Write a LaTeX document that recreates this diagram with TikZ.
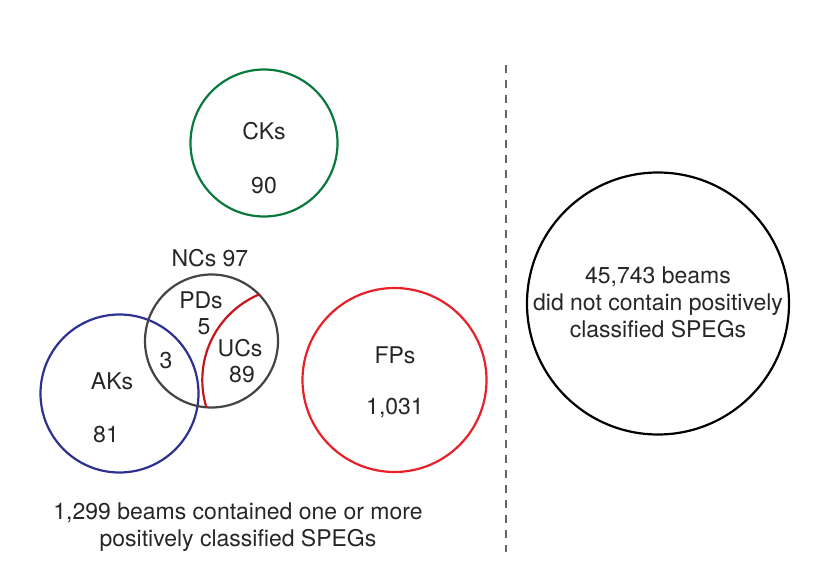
\documentclass[tikz,border=0pt]{standalone}
\usepackage{fontspec}
\setmainfont{TeX Gyre Heros}
\definecolor{ckgreen}{HTML}{0A7A3C}
\definecolor{akblue}{HTML}{2E3192}
\definecolor{fpred}{HTML}{E8202A}
\definecolor{ucred}{HTML}{C4161C}
\definecolor{ncgray}{HTML}{444444}
\definecolor{dashgray}{HTML}{666666}
\begin{document}
\begin{tikzpicture}[x={(1pt,0)},y={(0,-1pt)},
  setcirc/.style={circle,draw,line width=2.2pt,inner sep=0pt},
  lbl/.style={font=\fontsize{23}{27}\selectfont,text=black!85,inner sep=0pt,align=center}]
\useasboundingbox (0,0) rectangle (830,580);
% circles
\node[setcirc,draw=ckgreen,minimum size=147pt] (ck) at (264,143) {};
\node[setcirc,draw=akblue,minimum size=158pt] (ak) at (119.5,393.5) {};
\node[setcirc,draw=ncgray,minimum size=133pt] (nc) at (211.5,341) {};
\node[setcirc,draw=fpred,minimum size=184pt] (fp) at (394.5,380) {};
\node[setcirc,draw=black,minimum size=262pt] (beams) at (658,303.5) {};
% UCs arc
\begin{scope}
\clip (211.5,341) circle (66.5);
\draw[ucred,line width=2.2pt] (295.2,380.1) circle (92.9);
\end{scope}
% dashed separator
\coordinate (dtop) at (506,65);
\coordinate (dbot) at (506,552);
\draw[dashgray,line width=2pt,dash pattern=on 8pt off 7pt] (dtop) -- (dbot);
% labels
\node[lbl] (ckt) at (264,131) {CKs};
\node[lbl] (ckn) at (264,186) {90};
\node[lbl] (nct) at (210,258) {NCs 97};
\node[lbl] (pdt) at (201,300) {PDs};
\node[lbl] (pdn) at (204,327) {5};
\node[lbl] (uct) at (240,348) {UCs};
\node[lbl] (ucn) at (242,375) {89};
\node[lbl] (ovn) at (166,361) {3};
\node[lbl] (akt) at (112,381) {AKs};
\node[lbl] (akn) at (106,435) {81};
\node[lbl] (fpt) at (395,355) {FPs};
\node[lbl] (fpn) at (395,408) {1,031};
\node[lbl] (bt) at (658,302) {45,743 beams\\did not contain positively\\classified SPEGs};
\node[lbl] (bottom) at (238,527) {1,299 beams contained one or more\\positively classified SPEGs};
\end{tikzpicture}
\end{document}
